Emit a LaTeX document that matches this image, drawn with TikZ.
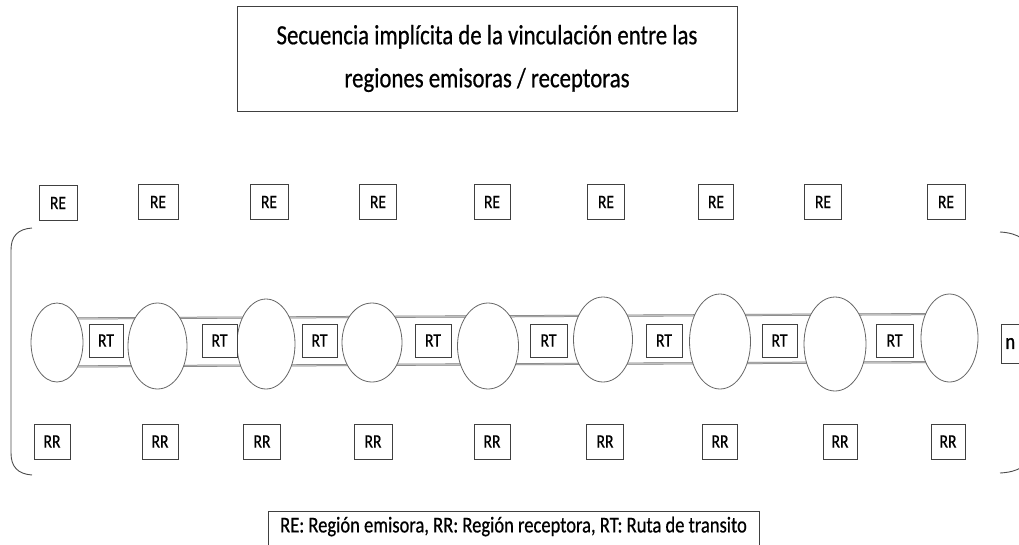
\documentclass[tikz,border=0pt]{standalone}
\usepackage{fontspec}
\setmainfont{Carlito}[FakeStretch=0.82,FakeBold=0.6]
\usetikzlibrary{shapes.geometric,backgrounds}
\tikzset{
  caja/.style={draw=black!75,line width=0.8pt,fill=white,minimum width=37pt,minimum height=35pt,inner sep=0pt,font=\fontsize{19}{19}\selectfont},
  region/.style={ellipse,draw=black!60,line width=0.8pt,fill=white,inner sep=0pt},
  ruta/.style={draw=black!55,line width=0.5pt,double=black!25,double distance=1.1pt},
  llave/.style={draw=black!70,line width=0.9pt},
}
\begin{document}
\begin{tikzpicture}[x=1pt,y=-1pt]
\useasboundingbox (0,0) rectangle (1019,544);
\clip (0,0) rectangle (1019,544);
% titulo y leyenda
\node[draw=black!75,line width=0.8pt,minimum width=500pt,minimum height=105pt,inner sep=0pt,align=center,font=\fontsize{27.8}{43}\selectfont] (titulo) at (487,58.5) {Secuencia implícita de la vinculación entre las\\regiones emisoras / receptoras};
\node[draw=black!75,line width=0.8pt,anchor=north,minimum width=491pt,inner xsep=0pt,inner ysep=2pt,text height=19pt,text depth=30pt,font=\fontsize{22.6}{22.6}\selectfont] (leyenda) at (513.5,511) {RE: Región emisora, RR: Región receptora, RT: Ruta de transito};
% regiones
\node[region,minimum width=52pt,minimum height=79pt] (e1) at (57,342.5) {};
\node[region,minimum width=59pt,minimum height=86pt] (e2) at (157.5,346) {};
\node[region,minimum width=58pt,minimum height=90pt] (e3) at (266,344) {};
\node[region,minimum width=60pt,minimum height=79pt] (e4) at (372,342.5) {};
\node[region,minimum width=61pt,minimum height=86pt] (e5) at (488,346) {};
\node[region,minimum width=59pt,minimum height=85pt] (e6) at (603,339.5) {};
\node[region,minimum width=61pt,minimum height=95pt] (e7) at (720,341.5) {};
\node[region,minimum width=62pt,minimum height=94pt] (e8) at (835,344) {};
\node[region,minimum width=57pt,minimum height=88pt] (e9) at (949.5,338) {};
% rutas
\begin{scope}[on background layer]
\draw[ruta] ([yshift=-24pt]e1.center) -- ([yshift=-24pt]e9.center);
\draw[ruta] ([yshift=24pt]e1.center) -- ([yshift=24pt]e9.center);
\end{scope}
\node[caja,minimum width=34pt,minimum height=33pt] (rt1) at (106,340.5) {RT};
\node[caja,minimum width=35pt,minimum height=33pt] (rt2) at (219.5,340.5) {RT};
\node[caja,minimum width=35pt,minimum height=33pt] (rt3) at (319.5,340.5) {RT};
\node[caja,minimum width=36pt,minimum height=33pt] (rt4) at (433,340.5) {RT};
\node[caja,minimum width=37pt,minimum height=33pt] (rt5) at (548.5,340.5) {RT};
\node[caja,minimum width=36pt,minimum height=33pt] (rt6) at (664,340.5) {RT};
\node[caja,minimum width=35pt,minimum height=33pt] (rt7) at (779.5,340.5) {RT};
\node[caja,minimum width=37pt,minimum height=33pt] (rt8) at (894.5,340.5) {RT};
\node[caja,anchor=west,minimum height=39pt,text width=30pt,align=left,inner xsep=4pt,font=\fontsize{22.6}{22.6}\selectfont] (n) at (1001,343.5) {n};
% emisoras
\node[caja,minimum width=38pt] (re1) at (58,203) {RE};
\node[caja,minimum width=40pt] (re2) at (158,202) {RE};
\node[caja,minimum width=38pt] (re3) at (269,202) {RE};
\node[caja,minimum width=37pt] (re4) at (378,202) {RE};
\node[caja,minimum width=36pt] (re5) at (492,202) {RE};
\node[caja,minimum width=37pt] (re6) at (606,202) {RE};
\node[caja,minimum width=35pt] (re7) at (716,202) {RE};
\node[caja,minimum width=37pt] (re8) at (823,202) {RE};
\node[caja,minimum width=38pt] (re9) at (946,202) {RE};
% receptoras
\node[caja,minimum width=36pt] (rr1) at (52,441.5) {RR};
\node[caja,minimum width=36pt] (rr2) at (160,441.5) {RR};
\node[caja,minimum width=37pt] (rr3) at (262,441.5) {RR};
\node[caja,minimum width=38pt] (rr4) at (373,441.5) {RR};
\node[caja,minimum width=36pt] (rr5) at (492,441.5) {RR};
\node[caja,minimum width=37pt] (rr6) at (605,441.5) {RR};
\node[caja,minimum width=35pt] (rr7) at (720,441.5) {RR};
\node[caja,minimum width=34pt] (rr8) at (840,441.5) {RR};
\node[caja,minimum width=34pt] (rr9) at (948,441.5) {RR};
% llaves
\draw[llave] (32,228) .. controls (18,229) and (11,236) .. (11,250) -- (11,453) .. controls (11,467) and (18,474) .. (32,475);
\draw[llave] (1000,232) .. controls (1018,233) and (1030,240) .. (1030,256) -- (1030,450) .. controls (1030,466) and (1018,472) .. (1000,473);
\end{tikzpicture}
\end{document}
